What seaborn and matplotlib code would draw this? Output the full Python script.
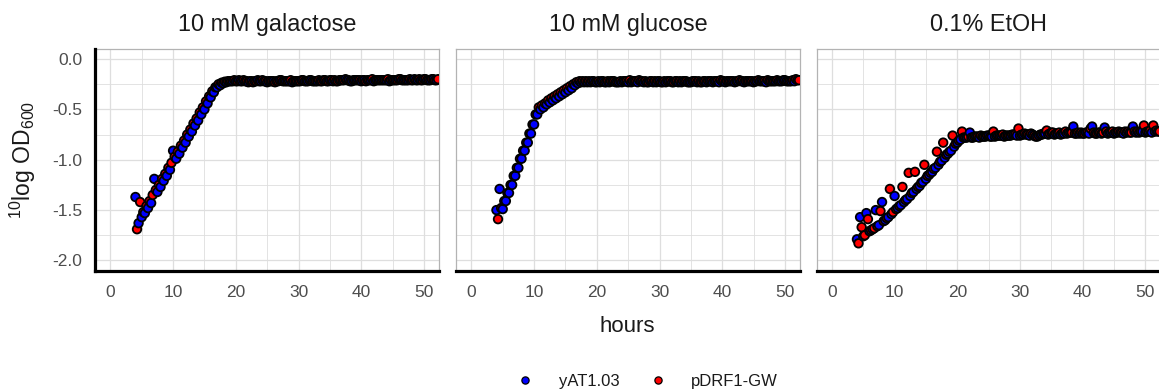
import numpy as np
import pandas as pd
import matplotlib
matplotlib.use("Agg")
import matplotlib.pyplot as plt
import seaborn as sns
from matplotlib.lines import Line2D
from matplotlib.ticker import MultipleLocator

sns.set_theme(style="white")
plt.rcParams["font.family"] = ["Liberation Sans", "DejaVu Sans"]
plt.rcParams["mathtext.fontset"] = "custom"
plt.rcParams["mathtext.rm"] = "Liberation Sans"
plt.rcParams["mathtext.it"] = "Liberation Sans"

# ---------------- data ----------------
conditions = ["10 mM galactose", "10 mM glucose", "0.1% EtOH"]
strains = ["yAT1.03", "pDRF1-GW"]
strain_colors = ["#0000FF", "#FF0000"]
x_ticks = [0, 10, 20, 30, 40, 50]
y_ticks = [-2.0, -1.5, -1.0, -0.5, 0.0]

hours_yat = [4.0, 4.5, 5.0, 5.5, 6.0, 6.5, 7.0, 7.5, 8.0, 8.5,
             9.0, 9.5, 10.0, 10.5, 11.0, 11.5, 12.0, 12.5, 13.0, 13.5,
             14.0, 14.5, 15.0, 15.5, 16.0, 16.5, 17.0, 17.5, 18.0, 18.5,
             19.0, 19.5, 20.0, 20.5, 21.0, 21.5, 22.0, 22.5, 23.0, 23.5,
             24.0, 24.5, 25.0, 25.5, 26.0, 26.5, 27.0, 27.5, 28.0, 28.5,
             29.0, 29.5, 30.0, 30.5, 31.0, 31.5, 32.0, 32.5, 33.0, 33.5,
             34.0, 34.5, 35.0, 35.5, 36.0, 36.5, 37.0, 37.5, 38.0, 38.5,
             39.0, 39.5, 40.0, 40.5, 41.0, 41.5, 42.0, 42.5, 43.0, 43.5,
             44.0, 44.5, 45.0, 45.5, 46.0, 46.5, 47.0, 47.5, 48.0, 48.5,
             49.0, 49.5, 50.0, 50.5, 51.0, 51.5, 52.0]

hours_pdrf = [4.25, 4.75, 5.25, 5.75, 6.25, 6.75, 7.25, 7.75, 8.25, 8.75,
              9.25, 9.75, 10.25, 10.75, 11.25, 11.75, 12.25, 12.75, 13.25, 13.75,
              14.25, 14.75, 15.25, 15.75, 16.25, 16.75, 17.25, 17.75, 18.25, 18.75,
              19.25, 19.75, 20.25, 20.75, 21.25, 21.75, 22.25, 22.75, 23.25, 23.75,
              24.25, 24.75, 25.25, 25.75, 26.25, 26.75, 27.25, 27.75, 28.25, 28.75,
              29.25, 29.75, 30.25, 30.75, 31.25, 31.75, 32.25, 32.75, 33.25, 33.75,
              34.25, 34.75, 35.25, 35.75, 36.25, 36.75, 37.25, 37.75, 38.25, 38.75,
              39.25, 39.75, 40.25, 40.75, 41.25, 41.75, 42.25, 42.75, 43.25, 43.75,
              44.25, 44.75, 45.25, 45.75, 46.25, 46.75, 47.25, 47.75, 48.25, 48.75,
              49.25, 49.75, 50.25, 50.75, 51.25, 51.75, 52.25]

gal_yat = [-1.37, -1.63, -1.57, -1.53, -1.48, -1.43, -1.19, -1.32, -1.27, -1.21,
           -1.16, -1.10, -0.91, -0.99, -0.94, -0.88, -0.83, -0.77, -0.72, -0.66,
           -0.61, -0.55, -0.50, -0.44, -0.38, -0.33, -0.28, -0.26, -0.24, -0.23,
           -0.22, -0.22, -0.22, -0.21, -0.22, -0.22, -0.23, -0.22, -0.22, -0.21,
           -0.22, -0.22, -0.23, -0.22, -0.22, -0.22, -0.21, -0.22, -0.22, -0.22,
           -0.23, -0.22, -0.22, -0.21, -0.22, -0.22, -0.21, -0.22, -0.22, -0.22,
           -0.21, -0.22, -0.21, -0.22, -0.22, -0.21, -0.21, -0.20, -0.21, -0.22,
           -0.21, -0.21, -0.22, -0.21, -0.21, -0.21, -0.22, -0.21, -0.21, -0.21,
           -0.21, -0.22, -0.21, -0.21, -0.20, -0.21, -0.21, -0.21, -0.21, -0.20,
           -0.21, -0.21, -0.20, -0.21, -0.21, -0.20, -0.21]

gal_pdrf = [-1.69, -1.42, -1.52, -1.46, -1.41, -1.35, -1.30, -1.25, -1.19, -1.14,
            -1.08, -1.03, -0.97, -0.92, -0.86, -0.81, -0.75, -0.70, -0.64, -0.59,
            -0.53, -0.48, -0.42, -0.37, -0.32, -0.28, -0.25, -0.235, -0.225, -0.22,
            -0.22, -0.21, -0.22, -0.22, -0.21, -0.22, -0.22, -0.23, -0.22, -0.22,
            -0.21, -0.22, -0.22, -0.22, -0.23, -0.22, -0.21, -0.22, -0.22, -0.21,
            -0.22, -0.22, -0.22, -0.21, -0.22, -0.21, -0.22, -0.22, -0.21, -0.22,
            -0.21, -0.22, -0.21, -0.21, -0.22, -0.21, -0.21, -0.21, -0.22, -0.21,
            -0.21, -0.21, -0.21, -0.22, -0.21, -0.20, -0.21, -0.21, -0.21, -0.21,
            -0.20, -0.21, -0.21, -0.21, -0.20, -0.21, -0.21, -0.20, -0.21, -0.21,
            -0.20, -0.21, -0.20, -0.21, -0.20, -0.21, -0.20]

glu_yat = [-1.50, -1.29, -1.49, -1.41, -1.33, -1.25, -1.16, -1.08, -0.99, -0.91,
           -0.83, -0.74, -0.65, -0.55, -0.50, -0.48, -0.45, -0.43, -0.41, -0.39,
           -0.37, -0.35, -0.33, -0.31, -0.29, -0.26, -0.24, -0.23, -0.23, -0.23,
           -0.23, -0.22, -0.23, -0.23, -0.22, -0.23, -0.23, -0.22, -0.23, -0.23,
           -0.23, -0.22, -0.23, -0.23, -0.22, -0.23, -0.22, -0.23, -0.23, -0.22,
           -0.23, -0.23, -0.22, -0.23, -0.23, -0.22, -0.23, -0.22, -0.23, -0.23,
           -0.22, -0.23, -0.23, -0.22, -0.23, -0.23, -0.22, -0.23, -0.22, -0.23,
           -0.22, -0.23, -0.22, -0.23, -0.22, -0.22, -0.23, -0.22, -0.22, -0.23,
           -0.22, -0.22, -0.23, -0.22, -0.22, -0.22, -0.23, -0.22, -0.22, -0.22,
           -0.22, -0.22, -0.21, -0.22, -0.22, -0.22, -0.21]

glu_pdrf = [-1.59, -1.48, -1.41, -1.33, -1.25, -1.16, -1.08, -0.99, -0.91, -0.83,
            -0.74, -0.65, -0.55, -0.48, -0.46, -0.44, -0.41, -0.39, -0.37, -0.35,
            -0.33, -0.31, -0.29, -0.27, -0.25, -0.23, -0.22, -0.22, -0.22, -0.22,
            -0.22, -0.23, -0.22, -0.22, -0.23, -0.22, -0.22, -0.22, -0.23, -0.22,
            -0.22, -0.22, -0.21, -0.22, -0.22, -0.21, -0.22, -0.22, -0.23, -0.22,
            -0.22, -0.22, -0.23, -0.22, -0.22, -0.22, -0.23, -0.22, -0.22, -0.22,
            -0.22, -0.23, -0.22, -0.22, -0.22, -0.23, -0.22, -0.22, -0.22, -0.22,
            -0.22, -0.21, -0.22, -0.22, -0.22, -0.22, -0.22, -0.21, -0.22, -0.22,
            -0.22, -0.22, -0.22, -0.21, -0.22, -0.22, -0.21, -0.22, -0.22, -0.21,
            -0.22, -0.21, -0.22, -0.22, -0.21, -0.20, -0.21]

eth_yat = [-1.79, -1.57, -1.76, -1.53, -1.71, -1.69, -1.50, -1.65, -1.42, -1.60,
           -1.57, -1.54, -1.36, -1.48, -1.45, -1.42, -1.39, -1.36, -1.32, -1.29,
           -1.26, -1.22, -1.19, -1.15, -1.12, -1.08, -1.05, -1.01, -0.98, -0.94,
           -0.91, -0.87, -0.83, -0.80, -0.78, -0.78, -0.73, -0.78, -0.77, -0.78,
           -0.77, -0.77, -0.76, -0.77, -0.77, -0.76, -0.76, -0.77, -0.76, -0.76,
           -0.75, -0.76, -0.76, -0.75, -0.75, -0.76, -0.75, -0.77, -0.76, -0.75,
           -0.74, -0.75, -0.73, -0.75, -0.74, -0.75, -0.74, -0.74, -0.73, -0.67,
           -0.74, -0.74, -0.74, -0.73, -0.74, -0.67, -0.74, -0.73, -0.74, -0.68,
           -0.74, -0.73, -0.74, -0.73, -0.73, -0.74, -0.73, -0.73, -0.67, -0.73,
           -0.73, -0.72, -0.73, -0.72, -0.73, -0.72, -0.72]

eth_pdrf = [-1.83, -1.67, -1.75, -1.59, -1.70, -1.68, -1.66, -1.51, -1.61, -1.58,
            -1.29, -1.52, -1.49, -1.46, -1.27, -1.40, -1.13, -1.33, -1.12, -1.27,
            -1.23, -1.05, -1.16, -1.13, -1.09, -0.92, -1.02, -0.83, -0.95, -0.92,
            -0.76, -0.84, -0.81, -0.72, -0.78, -0.77, -0.78, -0.77, -0.77, -0.76,
            -0.77, -0.76, -0.77, -0.72, -0.76, -0.76, -0.75, -0.76, -0.76, -0.75,
            -0.75, -0.69, -0.75, -0.74, -0.75, -0.74, -0.76, -0.77, -0.75, -0.74,
            -0.71, -0.74, -0.73, -0.74, -0.73, -0.74, -0.72, -0.73, -0.73, -0.74,
            -0.73, -0.73, -0.74, -0.73, -0.69, -0.73, -0.74, -0.73, -0.73, -0.72,
            -0.73, -0.72, -0.73, -0.72, -0.73, -0.72, -0.72, -0.73, -0.72, -0.72,
            -0.72, -0.66, -0.72, -0.71, -0.66, -0.71, -0.72]

series = {
    conditions[0]: (gal_yat, gal_pdrf),
    conditions[1]: (glu_yat, glu_pdrf),
    conditions[2]: (eth_yat, eth_pdrf),
}

frames = []
for cond, (v_yat, v_pdrf) in series.items():
    frames.append(pd.DataFrame({"hours": hours_yat, "logod": v_yat,
                                "strain": strains[0], "condition": cond}))
    frames.append(pd.DataFrame({"hours": hours_pdrf, "logod": v_pdrf,
                                "strain": strains[1], "condition": cond}))
df = pd.concat(frames, ignore_index=True)

# ---------------- layout ----------------
W, H = 1159, 392
fig = plt.figure(figsize=(W / 100, H / 100), dpi=100)
palette = dict(zip(strains, strain_colors))

panel_left_px = [95, 456, 816.5]
panel_w_px = 344
panel_top_px = 49
panel_bot_px = 270.5

grid_col = "#DEDEDE"
border_col = "#B3B3B3"

for i, cond in enumerate(conditions):
    l = panel_left_px[i] / W
    b = 1 - panel_bot_px / H
    w = panel_w_px / W
    h = (panel_bot_px - panel_top_px) / H
    ax = fig.add_axes([l, b, w, h])
    sub = df[df["condition"] == cond].sort_values("hours", kind="stable")
    sns.scatterplot(data=sub, x="hours", y="logod", hue="strain",
                    hue_order=strains, palette=palette, s=38,
                    edgecolor="black", linewidth=1.3, legend=False, ax=ax,
                    zorder=3)
    ax.set_xlim(-2.45, 52.4)
    ax.set_ylim(-2.1, 0.1)
    ax.set_xticks(x_ticks)
    ax.set_yticks(y_ticks)
    ax.set_yticklabels([f"{v:.1f}" for v in y_ticks])
    ax.xaxis.set_minor_locator(MultipleLocator(5))
    ax.yaxis.set_minor_locator(MultipleLocator(0.25))
    ax.grid(which="major", color=grid_col, lw=0.9)
    ax.grid(which="minor", color=grid_col, lw=0.6)
    ax.set_axisbelow(True)
    for sp in ax.spines.values():
        sp.set_color(border_col)
        sp.set_linewidth(0.9)
    ax.spines["bottom"].set_color("black")
    ax.spines["bottom"].set_linewidth(2.3)
    ax.spines["bottom"].set_zorder(5)
    ax.tick_params(which="major", direction="out", length=4.3, width=0.8,
                   color=border_col, labelcolor="#4D4D4D", labelsize=12.5,
                   pad=5)
    ax.tick_params(which="minor", length=0)
    ax.tick_params(axis="x", pad=6)
    if i == 0:
        ax.spines["left"].set_color("black")
        ax.spines["left"].set_linewidth(2.3)
        ax.spines["left"].set_zorder(5)
    else:
        ax.tick_params(axis="y", left=False, labelleft=False)
    ax.set_xlabel("")
    ax.set_ylabel("")
    ax.set_title(cond, fontsize=16.8, pad=13, color="#1A1A1A")

fig.text(23 / W, 1 - 159.5 / H, r"$^{\mathrm{10}}$log OD$_{\mathrm{600}}$",
         rotation=90, ha="center", va="center", fontsize=16.5, color="#1A1A1A")
fig.text(627.5 / W, 1 - 327 / H, "hours", ha="center", va="center",
         fontsize=16, color="#1A1A1A")

handles = [Line2D([], [], ls="", marker="o", markersize=5.2,
                  markerfacecolor=c, markeredgecolor="black",
                  markeredgewidth=0.9) for c in strain_colors]
leg = fig.legend(handles, strains, loc="center",
                 bbox_to_anchor=(645 / W, 1 - 381.5 / H), ncol=2,
                 frameon=False, fontsize=12, handlelength=1.6,
                 handletextpad=1.2, columnspacing=1.5)
for t in leg.get_texts():
    t.set_color("#1A1A1A")

fig.savefig("out.png", dpi=100)
